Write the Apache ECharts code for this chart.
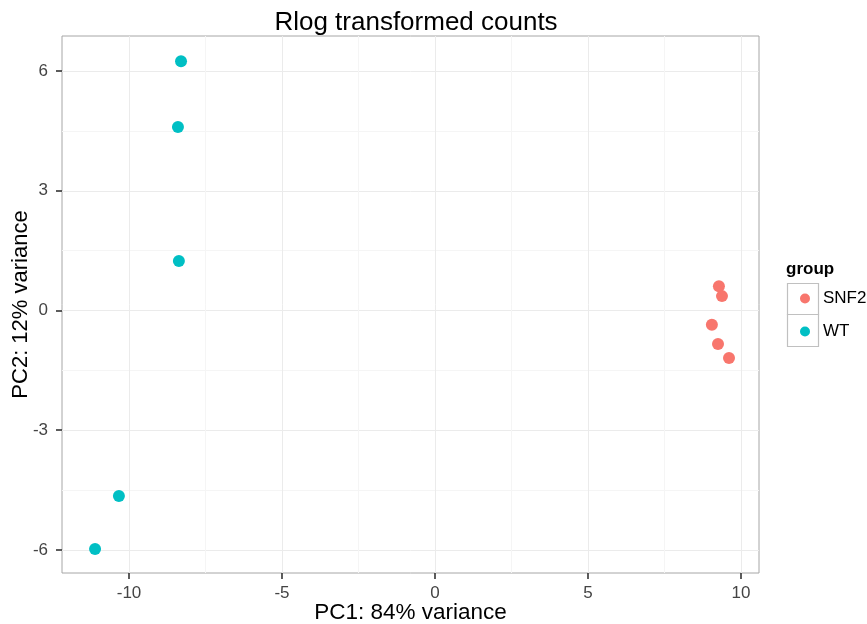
<!DOCTYPE html>
<html><head><meta charset="utf-8">
<script src="https://cdn.jsdelivr.net/npm/echarts@6/dist/echarts.min.js"></script>
<style>html,body{margin:0;padding:0;background:#fff}#c{width:867px;height:624px}</style>
</head><body><div id="c"></div>
<script>
const groups = ['SNF2', 'WT'];
const snf2PC1 = [9.28, 9.38, 9.05, 9.25, 9.61];
const snf2PC2 = [0.61, 0.36, -0.36, -0.84, -1.19];
const wtPC1 = [-8.30, -8.40, -8.37, -10.33, -11.11];
const wtPC2 = [6.25, 4.60, 1.24, -4.65, -5.98];
const xTicks = [-10, -5, 0, 5, 10];
const yTicks = [-6, -3, 0, 3, 6];
const xMinor = [-7.5, -2.5, 2.5, 7.5];
const yMinor = [-4.5, -1.5, 1.5, 4.5];
const xRange = [-12.19, 10.59];
const yRange = [-6.58, 6.88];
const colors = ['#F8766D', '#00BFC4'];

const zip = (a, b) => a.map((v, i) => [v, b[i]]);
const font = 'Liberation Sans, Arial, sans-serif';

const chart = echarts.init(document.getElementById('c'));
const baseAxis = (rng) => ({ type: 'value', min: rng[0], max: rng[1], axisLine: { show: false, onZero: false } });
chart.setOption({
  animation: false,
  title: { text: 'Rlog transformed counts', left: 411, top: 5, textAlign: 'center',
    textStyle: { fontFamily: font, fontSize: 26, fontWeight: 'normal', color: '#000' } },
  grid: { left: 62, right: 108, top: 36, bottom: 51, show: true, borderColor: '#a6a6a6', borderWidth: 1, backgroundColor: '#fff', outerBoundsMode: 'none', containLabel: false },
  legend: {
    orient: 'vertical', left: 800, top: 290, padding: 0, itemGap: 16, itemWidth: 10, itemHeight: 10,
    icon: 'circle', data: groups,
    textStyle: { fontFamily: font, fontSize: 17, color: '#000', padding: [0, 0, 0, 8] }
  },
  xAxis: [
    Object.assign(baseAxis(xRange), {
      name: 'PC1: 84% variance', nameLocation: 'middle', nameGap: 28, nameMoveOverlap: false,
      nameTextStyle: { fontFamily: font, fontSize: 22.5, color: '#000' },
      axisTick: { show: true, length: 6, lineStyle: { color: '#333', width: 1.6 }, customValues: xTicks },
      axisLabel: { customValues: xTicks, fontFamily: font, fontSize: 17, color: '#444', margin: 12 },
      splitLine: { show: true, lineStyle: { color: '#ebebeb', width: 1 } }
    }),
    Object.assign(baseAxis(xRange), {
      axisTick: { show: false, customValues: xMinor },
      axisLabel: { show: false, customValues: xMinor },
      splitLine: { show: true, lineStyle: { color: '#f5f5f5', width: 1 } }
    })
  ],
  yAxis: [
    Object.assign(baseAxis(yRange), {
      name: 'PC2: 12% variance', nameLocation: 'middle', nameGap: 30, nameMoveOverlap: false,
      nameTextStyle: { fontFamily: font, fontSize: 22, color: '#000' },
      axisTick: { show: true, length: 6, lineStyle: { color: '#333', width: 1.6 }, customValues: yTicks },
      axisLabel: { customValues: yTicks, fontFamily: font, fontSize: 17, color: '#444', margin: 14 },
      splitLine: { show: true, lineStyle: { color: '#ebebeb', width: 1 } }
    }),
    Object.assign(baseAxis(yRange), {
      axisTick: { show: false, customValues: yMinor },
      axisLabel: { show: false, customValues: yMinor },
      splitLine: { show: true, lineStyle: { color: '#f5f5f5', width: 1 } }
    })
  ],
  graphic: [
    { type: 'text', left: 786, top: 261, style: { text: 'group', fontFamily: font, fontSize: 17, fontWeight: 'bold', fill: '#000' } },
    { type: 'rect', shape: { x: 787.5, y: 283.5, width: 31, height: 31 }, style: { fill: 'none', stroke: '#c0c0c0', lineWidth: 1.2 }, z: -1 },
    { type: 'rect', shape: { x: 787.5, y: 314.5, width: 31, height: 32 }, style: { fill: 'none', stroke: '#c0c0c0', lineWidth: 1.2 }, z: -1 }
  ],
  series: [
    { name: groups[0], type: 'scatter', symbolSize: 12, itemStyle: { color: colors[0], opacity: 1 }, data: zip(snf2PC1, snf2PC2) },
    { name: groups[1], type: 'scatter', symbolSize: 12, itemStyle: { color: colors[1], opacity: 1 }, data: zip(wtPC1, wtPC2) }
  ]
});
</script></body></html>
